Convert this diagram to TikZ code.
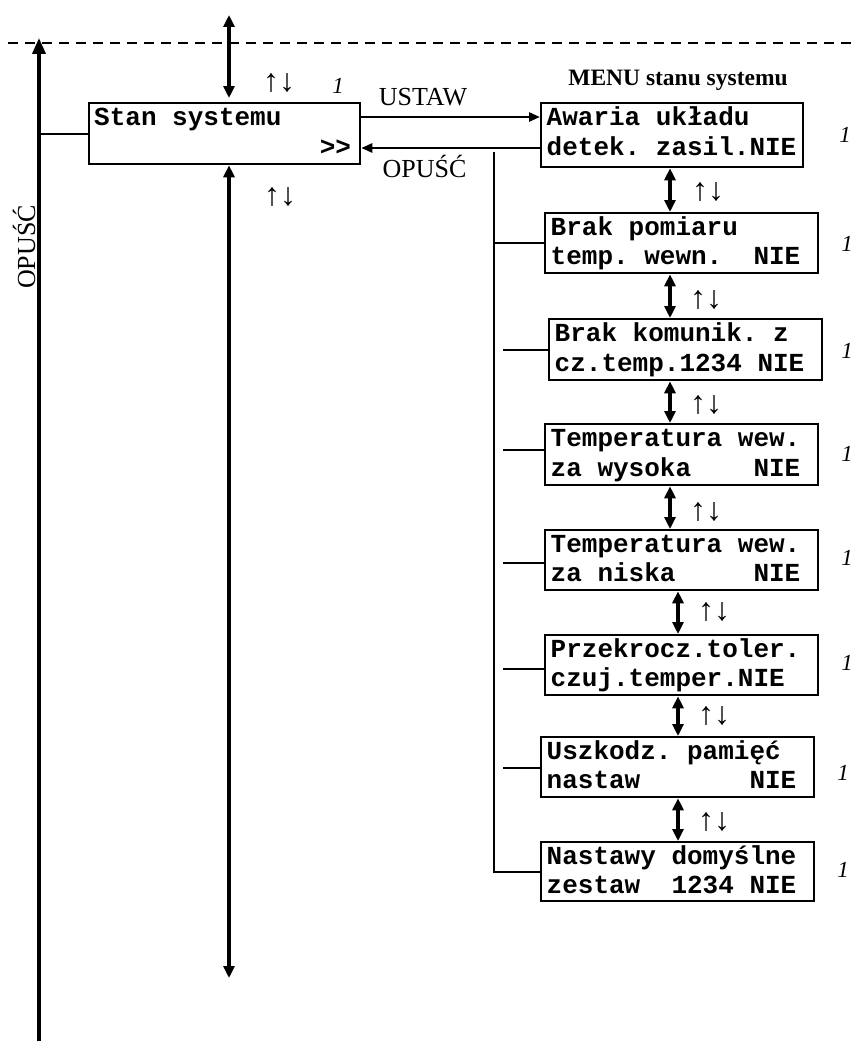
\documentclass[tikz,border=0pt]{standalone}
\usepackage{fontspec}
\setmainfont{Liberation Serif}
\newfontfamily\lcdfont{Liberation Mono}
\usetikzlibrary{arrows.meta,calc}
\newcommand\sk{\hbox to 0.6em{}}
\tikzset{
  lcdbox/.style={draw, line width=2.3pt, inner sep=0pt, anchor=north west},
  lcd/.style={anchor=base west, inner sep=0pt, font=\lcdfont\bfseries\fontsize{26}{30}\selectfont},
  dbl/.style={line width=3.3pt, {Triangle[width=11pt,length=12pt]}-{Triangle[width=11pt,length=12pt]}},
  sgl/.style={line width=2.5pt, -{Triangle[width=9pt,length=11pt]}},
  wire/.style={line width=2.2pt},
  lbl/.style={font=\fontsize{26}{30}\selectfont, inner sep=0pt, anchor=base},
  hdr/.style={font=\bfseries\fontsize{23.5}{28}\selectfont, inner sep=0pt, anchor=base},
  ud/.style={font=\fontsize{32}{36}\selectfont, inner sep=0pt},
  num/.style={font=\itshape\fontsize{23}{26}\selectfont, inner sep=0pt},
}
\begin{document}
\begin{tikzpicture}[x=1pt,y=1pt]
\useasboundingbox (0,0) rectangle (855,-1041);
% dashed line and left return arrow
\coordinate (dl) at (8,-43);
\coordinate (dr) at (855,-43);
\draw[line width=2.2pt, dash pattern=on 10pt off 7pt] (dl) -- (dr);
\coordinate (lbot) at (39,-1041);
\coordinate (ltop) at (39,-38);
\draw[line width=3.6pt, -{Triangle[width=13pt,length=16pt]}] (lbot) -- (ltop);
\node[lbl, rotate=90, anchor=base] (opv) at (35,-247) {OPUŚĆ};

% main box
\node[lcdbox, minimum width=271pt, minimum height=61pt] (stan) at (88,-102) {};
\node[lcd] (stant) at ($(stan.north west)+(6,-23)$) {Stan systemu};
\node[lcd, anchor=base east] (stang) at ($(stan.north east)+(-10,-53)$) {>>};
\draw[wire] (stan.west) -- (stan.west -| lbot);

\coordinate (topend) at (229,-15);
\draw[dbl, shorten >=4pt] (topend) -- (topend |- stan.north);
\coordinate (botend) at (229,-978);
\draw[dbl] (botend |- stan.south) -- (botend);
\node[ud] (ud0) at (279,-83) {↑↓};
\node[ud] (ud00) at (280,-197) {↑↓};
\node[num] (n0) at (338,-86) {1};

% menu column
\node[hdr] (menu) at (678,-85) {MENU stanu systemu};
\node[lcdbox, minimum width=262pt, minimum height=64pt] (b1) at (540,-102) {};
\node[lcdbox, minimum width=273pt, minimum height=60pt] (b2) at (544,-212) {};
\node[lcdbox, minimum width=273pt, minimum height=61pt] (b3) at (548,-318) {};
\node[lcdbox, minimum width=273pt, minimum height=61pt] (b4) at (544,-423) {};
\node[lcdbox, minimum width=273pt, minimum height=60pt] (b5) at (544,-529) {};
\node[lcdbox, minimum width=273pt, minimum height=60pt] (b6) at (544,-634) {};
\node[lcdbox, minimum width=273pt, minimum height=60pt] (b7) at (540,-736) {};
\node[lcdbox, minimum width=273pt, minimum height=59pt] (b8) at (540,-841) {};

\node[lcd] (t1a) at ($(b1.north west)+(6.5,-23)$) {Awaria układu};
\node[lcd] (t1b) at ($(b1.north west)+(6.5,-53)$) {detek.\sk zasil.NIE};
\node[lcd] (t2a) at ($(b2.north west)+(6.5,-23)$) {Brak\sk pomiaru};
\node[lcd] (t2b) at ($(b2.north west)+(6.5,-52)$) {temp.\sk wewn.\sk\sk NIE};
\node[lcd] (t3a) at ($(b3.north west)+(6.5,-23)$) {Brak\sk komunik.\sk z};
\node[lcd] (t3b) at ($(b3.north west)+(6.5,-53)$) {cz.temp.1234\sk NIE};
\node[lcd] (t4a) at ($(b4.north west)+(6.5,-23)$) {Temperatura\sk wew.};
\node[lcd] (t4b) at ($(b4.north west)+(6.5,-53)$) {za\sk wysoka\sk\sk\sk\sk NIE};
\node[lcd] (t5a) at ($(b5.north west)+(6.5,-23)$) {Temperatura\sk wew.};
\node[lcd] (t5b) at ($(b5.north west)+(6.5,-52)$) {za\sk niska\sk\sk\sk\sk\sk NIE};
\node[lcd] (t6a) at ($(b6.north west)+(6.5,-23)$) {Przekrocz.toler.};
\node[lcd] (t6b) at ($(b6.north west)+(6.5,-52)$) {czuj.temper.NIE};
\node[lcd] (t7a) at ($(b7.north west)+(6.5,-23)$) {Uszkodz.\sk pamięć};
\node[lcd] (t7b) at ($(b7.north west)+(6.5,-52)$) {nastaw\sk\sk\sk\sk\sk\sk\sk NIE};
\node[lcd] (t8a) at ($(b8.north west)+(6.5,-23)$) {Nastawy\sk domyślne};
\node[lcd] (t8b) at ($(b8.north west)+(6.5,-52)$) {zestaw\sk\sk 1234\sk NIE};

% USTAW / OPUŚĆ
\draw[sgl] (stan.east |- 0,-117) -- (b1.west |- 0,-117);
\draw[sgl] (b1.west |- 0,-148) -- (stan.east |- 0,-148);
\node[lbl] (ustaw) at (423,-105) {USTAW};
\node[lbl] (opusc) at (424.5,-177) {OPUŚĆ};

% trunk and branches
\coordinate (tr) at (494,-152);
\draw[wire] (tr) |- (b8.west);
\draw[wire] (tr |- b2.west) -- (b2.west);
\draw[wire] ([xshift=-45pt]b3.west) -- (b3.west);
\draw[wire] ([xshift=-41pt,yshift=5pt]b4.west) -- ([yshift=5pt]b4.west);
\draw[wire] ([xshift=-41pt,yshift=-3pt]b5.west) -- ([yshift=-3pt]b5.west);
\draw[wire] ([xshift=-41pt,yshift=-4pt]b6.west) -- ([yshift=-4pt]b6.west);
\draw[wire] ([xshift=-37pt,yshift=-1pt]b7.west) -- ([yshift=-1pt]b7.west);

% arrows between menu items
\draw[dbl] (670,0 |- b1.south) -- (670,0 |- b2.north);
\draw[dbl] (670,0 |- b2.south) -- (670,0 |- b3.north);
\draw[dbl] (670,0 |- b3.south) -- (670,0 |- b4.north);
\draw[dbl] (670,0 |- b4.south) -- (670,0 |- b5.north);
\draw[dbl] (678,0 |- b5.south) -- (678,0 |- b6.north);
\draw[dbl] (678,0 |- b6.south) -- (678,0 |- b7.north);
\draw[dbl] (678,0 |- b7.south) -- (678,0 |- b8.north);

\node[ud] (ud1) at (708,-192) {↑↓};
\node[ud] (ud2) at (706,-300) {↑↓};
\node[ud] (ud3) at (706,-405) {↑↓};
\node[ud] (ud4) at (706,-512) {↑↓};
\node[ud] (ud5) at (714,-612) {↑↓};
\node[ud] (ud6) at (714,-716) {↑↓};
\node[ud] (ud7) at (714,-822) {↑↓};

% italic labels
\node[num] (n1) at (845,-135) {1};
\node[num] (n2) at (847,-244) {1};
\node[num] (n3) at (847,-351) {1};
\node[num] (n4) at (847,-454) {1};
\node[num] (n5) at (847,-558) {1};
\node[num] (n6) at (847,-663) {1};
\node[num] (n7) at (843,-773) {1};
\node[num] (n8) at (843,-870) {1};
\end{tikzpicture}
\end{document}
